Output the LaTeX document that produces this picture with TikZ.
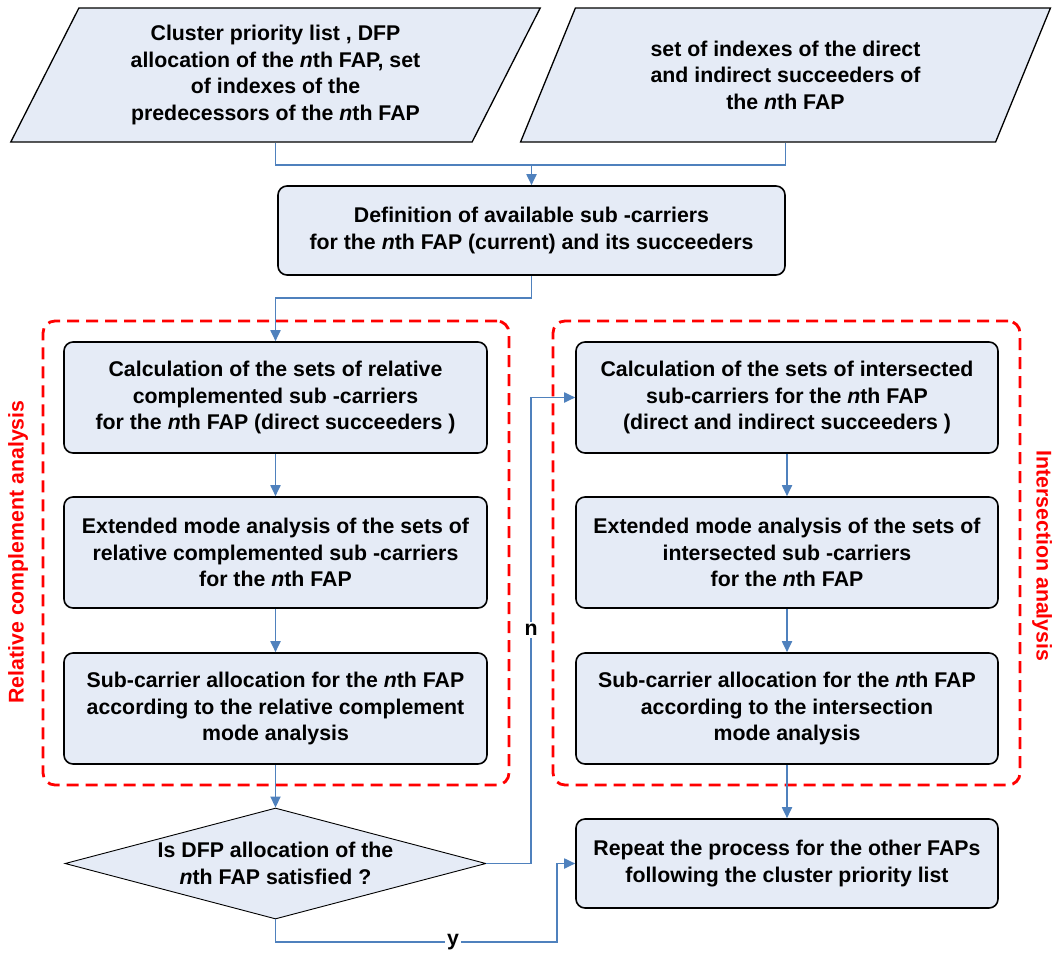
\documentclass[tikz,border=0pt]{standalone}
\usepackage{fontspec}
\setmainfont{Liberation Sans}
\usetikzlibrary{arrows.meta,shapes.geometric}
\definecolor{boxfill}{RGB}{229,235,246}
\definecolor{conn}{RGB}{79,129,189}
\definecolor{grpred}{RGB}{255,0,0}
\tikzset{
  txt/.style={font=\fontsize{21.3}{26.5}\selectfont\bfseries, align=center},
  base/.style={txt, fill=boxfill, draw=black, inner sep=2pt},
  iobox/.style={base, trapezium, trapezium left angle=63.8, trapezium right angle=116.2,
    trapezium stretches=true, minimum width=532, minimum height=134, line width=1.3pt},
  procbox/.style={base, rectangle, rounded corners=9pt, line width=1.6pt,
    minimum width=423, minimum height=111},
  decbox/.style={fill=boxfill, draw=black, diamond, minimum width=421, minimum height=111,
    line width=0.9pt, inner sep=0pt},
  grpbox/.style={draw=grpred, line width=2.8pt, dash pattern=on 12pt off 7pt,
    rounded corners=12pt, minimum width=466, minimum height=464},
  grplabel/.style={txt, text=grpred},
  conline/.style={draw=conn, line width=1.8pt},
  arr/.style={conline, -{Triangle[length=11pt,width=10pt]}},
  edgelabel/.style={txt, fill=white, inner sep=2pt}
}
\begin{document}
\begin{tikzpicture}[x=1pt,y=-1pt]
\useasboundingbox (0,0) rectangle (1052,953);

% groups
\node[grpbox] (gL) at (276,553) {};
\node[grpbox, minimum width=467] (gR) at (786.5,553) {};
\node[grplabel, rotate=90] (labL) at (18,552) {Relative complement analysis};
\node[grplabel, rotate=-90] (labR) at (1042,556) {Intersection analysis};

% inputs
\node[iobox] (p1) at (275.5,75) {Cluster priority list , DFP\\allocation of the \textit{n}th FAP, set\\of indexes of the\\predecessors of the \textit{n}th FAP};
\node[iobox] (p2) at (785.5,75) {set of indexes of the direct\\and indirect succeeders of\\the \textit{n}th FAP};

% definition
\node[procbox, minimum width=507, minimum height=89] (def) at (531.5,230.5) {Definition of available sub -carriers\\for the \textit{n}th FAP (current) and its succeeders};

% left column
\node[procbox] (L1) at (275.5,397.5) {Calculation of the sets of relative\\complemented sub -carriers\\for the \textit{n}th FAP (direct succeeders )};
\node[procbox] (L2) at (275.5,552.5) {Extended mode analysis of the sets of\\relative complemented sub -carriers\\for the \textit{n}th FAP};
\node[procbox] (L3) at (275.5,708.5) {Sub-carrier allocation for the \textit{n}th FAP\\according to the relative complement\\mode analysis};

% right column
\node[procbox, minimum width=422] (R1) at (787,397.5) {Calculation of the sets of intersected\\sub-carriers for the \textit{n}th FAP\\(direct and indirect succeeders )};
\node[procbox, minimum width=422] (R2) at (787,552.5) {Extended mode analysis of the sets of\\intersected sub -carriers\\for the \textit{n}th FAP};
\node[procbox, minimum width=422] (R3) at (787,708.5) {Sub-carrier allocation for the \textit{n}th FAP\\according to the intersection\\mode analysis};

% decision
\node[decbox] (dia) at (275.5,863.5) {};
\node[txt] (diatext) at (dia.center) {Is DFP allocation of the\\\textit{n}th FAP satisfied ?};

% repeat
\node[procbox, minimum width=422, minimum height=89] (rep) at (787,863.5) {Repeat the process for the other FAPs\\following the cluster priority list};

% connectors
\coordinate (m1) at (531.5,165);
\draw[conline] (p1.center |- p1.south) |- (m1);
\draw[conline] (p2.center |- p2.south) |- (m1);
\draw[arr] (m1) -- (def.north);

\coordinate (t2) at (531.5,298);
\draw[arr] (def.south) -- (t2) -| (L1.north);

\draw[arr] (L1.south) -- (L2.north);
\draw[arr] (L2.south) -- (L3.north);
\draw[arr] (L3.south) -- (dia.north);

\draw[arr] (R1.south) -- (R2.north);
\draw[arr] (R2.south) -- (R3.north);
\draw[arr] (R3.south) -- (rep.north);

\coordinate (nc) at (531,863.5);
\draw[arr] (dia.east) -- (nc) |- (R1.west);
\node[edgelabel] (nlab) at (531,630) {n};

\coordinate (y1) at (275.5,942);
\coordinate (y2) at (557,942);
\draw[arr] (dia.south) -- (y1) -- (y2) |- (rep.west);
\node[edgelabel] (ylab) at (453,942) {y};
\end{tikzpicture}
\end{document}
